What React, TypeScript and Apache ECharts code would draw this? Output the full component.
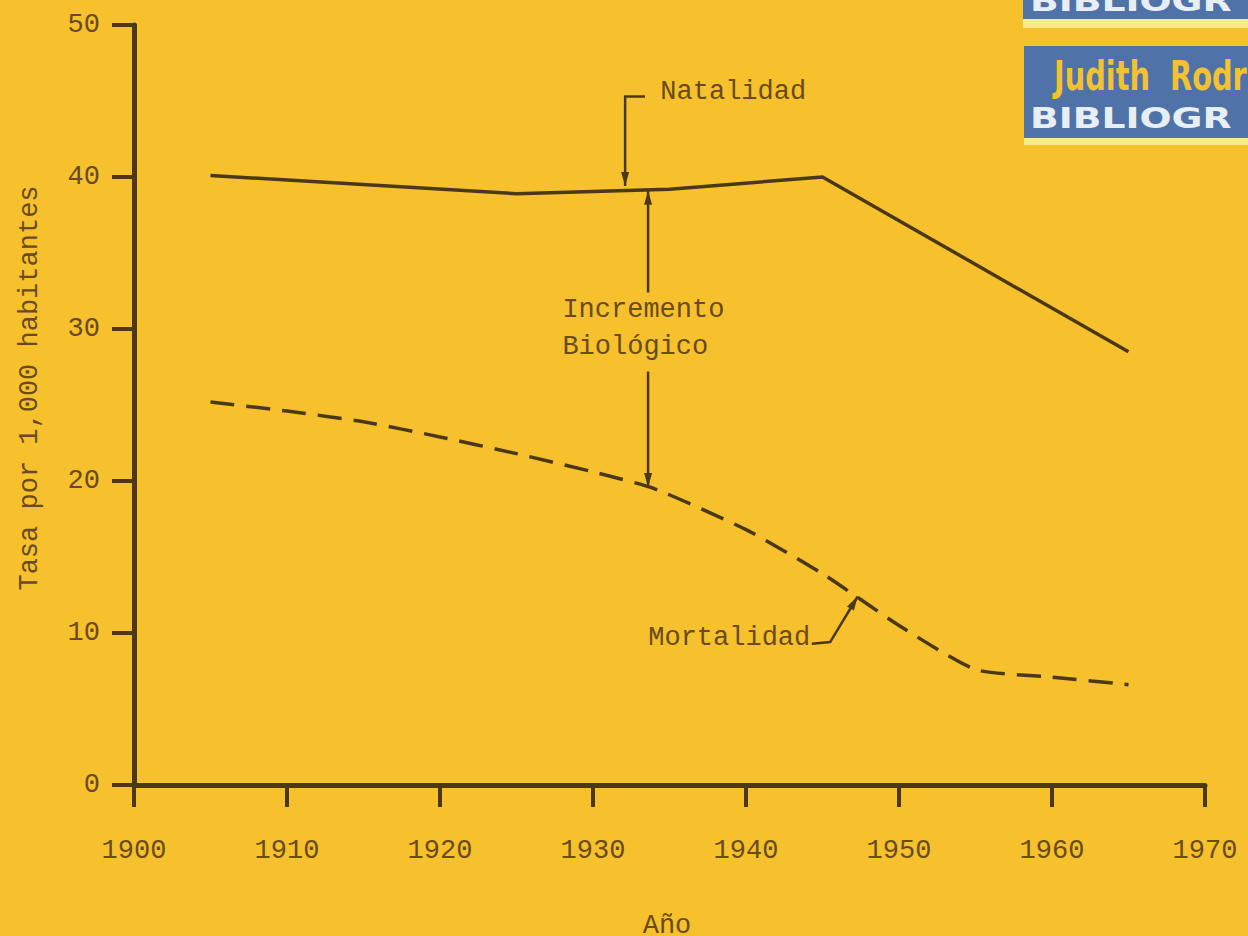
import React, { useEffect, useRef } from "react";
import * as echarts from "echarts";

const years = [1900, 1910, 1920, 1930, 1940, 1950, 1960, 1970];
const yTicks = [0, 10, 20, 30, 40, 50];
const natalidadYears = [1905, 1925, 1935, 1945, 1965];
const natalidadValues = [40.1, 38.9, 39.2, 40.0, 28.5];
const mortalidadYears = [1905, 1910, 1915, 1920, 1925, 1930, 1934, 1940, 1945, 1950, 1955, 1960, 1965];
const mortalidadValues = [25.2, 24.6, 23.9, 22.9, 21.8, 20.6, 19.5, 16.8, 13.9, 10.5, 7.6, 7.1, 6.6];

const INK = "#4a3818";
const TEXT = "#6a4b1c";
const BG = "#f6c12d";
const FONT = "'Liberation Mono', 'DejaVu Sans Mono', monospace";

function arrowHead(tip: number[], from: number[], len = 14, half = 4) {
  const dx = tip[0] - from[0];
  const dy = tip[1] - from[1];
  const d = Math.hypot(dx, dy) || 1;
  const ux = dx / d, uy = dy / d;
  const bx = tip[0] - ux * len, by = tip[1] - uy * len;
  return {
    type: "polygon",
    shape: { points: [tip, [bx - uy * half, by + ux * half], [bx + uy * half, by - ux * half]] },
    style: { fill: INK },
    z: 10,
  };
}

export default function App() {
  const ref = useRef<HTMLDivElement>(null);
  useEffect(() => {
    if (!ref.current) return;
    const chart = echarts.init(ref.current, null, { renderer: "svg" });
    chart.setOption({
      animation: false,
      backgroundColor: BG,
      grid: { left: 134, right: 43, top: 25, bottom: 151 },
      xAxis: {
        type: "value",
        min: years[0],
        max: years[years.length - 1],
        interval: 10,
        axisLine: { show: true, lineStyle: { color: INK, width: 5 } },
        axisTick: { show: true, length: 22, lineStyle: { color: INK, width: 4 } },
        axisLabel: { color: TEXT, fontFamily: FONT, fontSize: 27, margin: 52, formatter: (v: number) => String(v) },
        splitLine: { show: false },
      },
      yAxis: {
        type: "value",
        min: yTicks[0],
        max: yTicks[yTicks.length - 1],
        interval: 10,
        axisLine: { show: true, lineStyle: { color: INK, width: 5 } },
        axisTick: { show: true, length: 22, lineStyle: { color: INK, width: 4 } },
        axisLabel: { color: TEXT, fontFamily: FONT, fontSize: 27, margin: 34 },
        splitLine: { show: false },
      },
      series: [
        {
          name: "Natalidad",
          type: "line",
          data: natalidadYears.map((y, i) => [y, natalidadValues[i]]),
          showSymbol: false,
          lineStyle: { color: INK, width: 3.5 },
          z: 3,
        },
        {
          name: "Mortalidad",
          type: "line",
          data: mortalidadYears.map((y, i) => [y, mortalidadValues[i]]),
          showSymbol: false,
          smooth: 0.2,
          lineStyle: { color: INK, width: 3.5, type: [24, 12] },
          z: 3,
        },
      ],
    });

    const p = (x: number, y: number) => chart.convertToPixel({ gridIndex: 0 }, [x, y]) as number[];
    const lineStyle = { stroke: INK, lineWidth: 2.5, fill: "none" };

    const n1 = p(1933.4, 45.3), n2 = p(1932.1, 45.3), n3 = p(1932.1, 39.4);
    const i1 = p(1933.6, 39.1), i2 = p(1933.6, 32.4), i3 = p(1933.6, 27.2), i4 = p(1933.6, 19.6);
    const m1 = p(1944.3, 9.3), m2 = p(1945.5, 9.4), m3 = p(1947.3, 12.4);

    const nText = p(1934.4, 45.6);
    const incText = p(1928.0, 31.25);
    const bioText = p(1928.0, 28.8);
    const mText = p(1944.2, 9.7);

    const txt = (pt: number[], s: string, align: string) => ({
      type: "text",
      x: pt[0],
      y: pt[1],
      style: { text: s, fill: TEXT, font: `27px ${FONT}`, align, verticalAlign: "middle" },
      z: 10,
    });

    chart.setOption({
      graphic: [
        { type: "polyline", shape: { points: [n1, n2, n3] }, style: lineStyle, z: 10 },
        arrowHead(n3, n2),
        { type: "line", shape: { x1: i1[0], y1: i1[1], x2: i2[0], y2: i2[1] }, style: lineStyle, z: 10 },
        arrowHead(i1, i2),
        { type: "line", shape: { x1: i3[0], y1: i3[1], x2: i4[0], y2: i4[1] }, style: lineStyle, z: 10 },
        arrowHead(i4, i3),
        { type: "polyline", shape: { points: [m1, m2, m3] }, style: lineStyle, z: 10 },
        arrowHead(m3, m2),
        txt(nText, "Natalidad", "left"),
        txt(incText, "Incremento", "left"),
        txt(bioText, "Biológico", "left"),
        txt(mText, "Mortalidad", "right"),
        {
          type: "text",
          x: 30,
          y: 388,
          rotation: Math.PI / 2,
          style: { text: "Tasa por 1,000 habitantes", fill: TEXT, font: `27px ${FONT}`, align: "center", verticalAlign: "middle" },
        },
        {
          type: "text",
          x: 667,
          y: 926,
          style: { text: "Año", fill: TEXT, font: `27px ${FONT}`, align: "center", verticalAlign: "middle" },
        },
        // logo
        { type: "rect", shape: { x: 1023, y: 0, width: 225, height: 19 }, style: { fill: "#4f73a8" } },
        { type: "rect", shape: { x: 1023, y: 19, width: 225, height: 9 }, style: { fill: "#fbe98a" } },
        {
          type: "text",
          x: 1030,
          y: 1,
          scaleX: 1.3,
          style: { text: "BIBLIOGR", fill: "#e8eef5", font: `bold 29px 'DejaVu Sans'`, align: "left", verticalAlign: "middle" },
        },
        { type: "rect", shape: { x: 1024, y: 46, width: 224, height: 92 }, style: { fill: "#4f73a8" } },
        { type: "rect", shape: { x: 1024, y: 138, width: 224, height: 7 }, style: { fill: "#fbe98a" } },
        {
          type: "text",
          x: 1054,
          y: 76,
          scaleX: 0.72,
          style: { text: "Judith  Rodrí", fill: "#f2c230", font: `bold 40px 'DejaVu Sans'`, align: "left", verticalAlign: "middle" },
        },
        {
          type: "text",
          x: 1030,
          y: 118,
          scaleX: 1.3,
          style: { text: "BIBLIOGR", fill: "#e8eef5", font: `bold 29px 'DejaVu Sans'`, align: "left", verticalAlign: "middle" },
        },
      ],
    });
    return () => chart.dispose();
  }, []);
  return <div ref={ref} style={{ position: "fixed", left: 0, top: 0, width: 1248, height: 936 }} />;
}
